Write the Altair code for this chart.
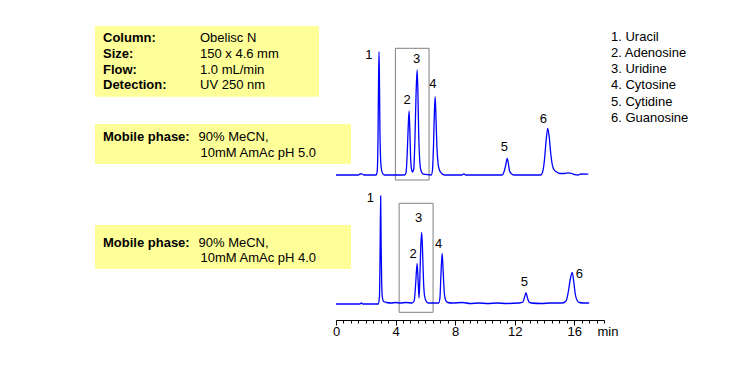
import altair as alt
import pandas as pd

# ---------------- data ----------------
# Top chromatogram: 90% MeCN, 10mM AmAc pH 5.0  (time in min, signal)
top_t = [0.0, 1.50, 1.62, 1.74, 1.86, 2.70, 2.77, 2.82, 2.86, 2.89, 2.92, 2.95, 2.99, 3.04, 3.12, 3.25,
         4.60, 4.70, 4.78, 4.85, 4.91, 4.96, 5.01, 5.06, 5.13, 5.22, 5.30, 5.38, 5.45, 5.50, 5.55, 5.61,
         5.67, 5.76, 5.88, 6.40, 6.48, 6.55, 6.61, 6.66, 6.72, 6.78, 6.86, 6.96, 7.10, 7.30,
         8.45, 8.59, 8.72, 11.15, 11.28, 11.40, 11.50, 11.58, 11.66, 11.78, 11.95,
         13.75, 13.88, 14.00, 14.11, 14.22, 14.32, 14.42, 14.53, 14.66, 14.82, 15.05, 15.35, 15.60,
         15.85, 16.05, 16.25, 16.45, 16.95]
top_v = [0.0, 0.0, 1.0, 1.2, 0.0, 0.0, 4.0, 35.0, 95.0, 123.3, 92.0, 45.0, 18.0, 7.0, 2.0, 0.0,
         0.0, 2.0, 20.0, 48.0, 64.0, 44.0, 18.0, 7.0, 3.0, 6.0, 35.0, 82.0, 105.0, 84.0, 44.0, 18.0,
         7.0, 2.5, 0.8, 0.0, 5.0, 30.0, 63.0, 78.3, 55.0, 27.0, 11.0, 4.5, 1.5, 0.0,
         0.0, 1.0, 0.0, 0.0, 3.0, 10.0, 16.7, 11.0, 4.0, 1.2, 0.0,
         0.0, 3.0, 15.0, 34.0, 46.7, 38.0, 22.0, 10.0, 5.0, 3.0, 1.5, 1.5, 2.2,
         1.5, 0.3, 0.0, 1.0, 0.8]

# Bottom chromatogram: 90% MeCN, 10mM AmAc pH 4.0
bot_t = [0.0, 1.60, 1.70, 1.80, 2.85, 2.92, 2.96, 3.00, 3.03, 3.07, 3.12, 3.20, 3.40, 3.70, 4.00, 4.30,
         4.70, 5.10, 5.25, 5.35, 5.45, 5.52, 5.58, 5.64, 5.70, 5.76, 5.82, 5.88, 5.95, 6.05, 6.20,
         6.90, 6.98, 7.05, 7.13, 7.20, 7.27, 7.36, 7.50, 7.80, 8.50, 9.00, 9.60, 10.20, 10.80, 11.50,
         12.30, 12.55, 12.65, 12.76, 12.86, 12.96, 13.10, 13.80, 14.40, 15.20, 15.45, 15.60, 15.75,
         15.87, 15.97, 16.08, 16.20, 16.35, 16.60, 17.00]
bot_v = [0.0, 0.0, 1.0, 0.0, 0.0, 8.0, 50.0, 108.0, 60.0, 20.0, 6.0, 2.5, 1.5, 1.0, 1.5, 1.0,
         1.5, 1.0, 3.0, 20.0, 40.7, 22.0, 6.0, 30.0, 60.0, 71.7, 50.0, 22.0, 8.0, 3.0, 1.0,
         1.0, 6.0, 30.0, 50.7, 32.0, 12.0, 4.0, 1.5, 1.0, 1.5, 0.5, 1.0, 0.5, 1.0, 0.5,
         1.0, 2.0, 6.0, 11.3, 6.0, 2.0, 1.0, 0.5, 1.0, 1.0, 3.0, 12.0, 26.0,
         31.7, 22.0, 9.0, 3.5, 1.5, 1.0, 1.0]

peak_ids = ["1", "2", "3", "4", "5", "6"]
top_label_t = [2.20, 4.77, 5.41, 6.50, 11.30, 13.92]
top_label_v = [120.0, 75.0, 115.7, 91.0, 27.7, 56.0]
bot_label_t = [2.31, 5.18, 5.55, 6.90, 12.65, 16.34]
bot_label_v = [105.7, 50.0, 85.7, 59.7, 21.7, 30.0]

compounds = ["Uracil", "Adenosine", "Uridine", "Cytosine", "Cytidine", "Guanosine"]

info_keys = ["Column:", "Size:", "Flow:", "Detection:"]
info_vals = ["Obelisc N", "150 x 4.6 mm", "1.0 mL/min", "UV 250 nm"]
mp_key = "Mobile phase:"
mp_top = ["90% MeCN,", "10mM AmAc pH 5.0"]
mp_bot = ["90% MeCN,", "10mM AmAc pH 4.0"]

# highlighted retention windows (min) and signal span
top_win_t = [3.99, 6.25]
top_win_v = [-5.0, 126.7]
bot_win_t = [4.24, 6.52]
bot_win_v = [-8.3, 100.7]

tick_values = [i * 0.5 for i in range(37)]

# ---------------- chart ----------------
FONT = "Liberation Sans"
BLUE = "#0000ff"
YELLOW = "#ffff99"
FS = 13
one = alt.InlineData(values=[{"k": 0}])

xscale = alt.Scale(domain=[0, 18], range=[328, 596], nice=False, zero=False)
xaxis = alt.Axis(
    values=tick_values,
    labelExpr="datum.value % 4 === 0 ? '' + datum.value : ''",
    tickSize=alt.condition("datum.value % 4 === 0", alt.value(5), alt.value(3)),
    labelOverlap=False, labelFlush=False, grid=False,
    domainColor="#000000", tickColor="#000000", labelColor="#000000",
    labelFont=FONT, labelFontSize=FS, labelPadding=0,
    title="min", titleFont=FONT, titleFontSize=FS, titleFontWeight="normal",
    titleColor="#000000", titleX=599.5, titleY=15, titleAlign="center",
    titleBaseline="alphabetic", titleAngle=0,
)
ytop = alt.Scale(domain=[0, 130], range=[167, 37], nice=False, zero=False)
ybot = alt.Scale(domain=[0, 130], range=[296, 166], nice=False, zero=False)


def trace_layer(ts, vs, lt, lv, wt, wv, yscale):
    d = pd.DataFrame({"t": ts, "v": vs})
    lab = pd.DataFrame({"t": lt, "v": lv, "id": peak_ids})
    win = pd.DataFrame({"t": [wt[0]], "t2": [wt[1]], "v": [wv[1]], "v2": [wv[0]]})
    box = alt.Chart(win).mark_rect(fill="transparent", stroke="#808080", strokeWidth=1).encode(
        x=alt.X("t:Q", scale=xscale, axis=xaxis), x2="t2:Q",
        y=alt.Y("v:Q", scale=yscale, axis=None), y2="v2:Q")
    line = alt.Chart(d).mark_line(color=BLUE, strokeWidth=1.3, interpolate="monotone").encode(
        x=alt.X("t:Q", scale=xscale, axis=xaxis),
        y=alt.Y("v:Q", scale=yscale, axis=None))
    txt = alt.Chart(lab).mark_text(font=FONT, fontSize=FS, color="#000000",
                                   align="center", baseline="middle").encode(
        x=alt.X("t:Q", scale=xscale, axis=xaxis),
        y=alt.Y("v:Q", scale=yscale, axis=None), text="id:N")
    return alt.layer(box, line, txt)


def rect(x1, x2, y1, y2):
    return alt.Chart(one).mark_rect(color=YELLOW).encode(
        x=alt.value(x1), x2=alt.value(x2), y=alt.value(y1), y2=alt.value(y2))


def label(s, x, y, bold=False, size=FS):
    return alt.Chart(one).mark_text(font=FONT, fontSize=size, color="#000000", align="left",
                                    baseline="alphabetic",
                                    fontWeight="bold" if bold else "normal").encode(
        x=alt.value(x), y=alt.value(y), text=alt.value(s))


annots = [rect(87, 311, 18, 88.7), rect(87, 343, 116, 156), rect(87, 343, 217, 261)]
for i, (k, v) in enumerate(zip(info_keys, info_vals)):
    yy = 33.7 + i * 15.9
    annots.append(label(k, 95, yy, bold=True))
    annots.append(label(v, 192, yy))
annots.append(label(mp_key, 95, 133, bold=True))
annots.append(label(mp_top[0], 190.5, 133))
annots.append(label(mp_top[1], 192.5, 148.5))
annots.append(label(mp_key, 95, 238.5, bold=True))
annots.append(label(mp_bot[0], 190.5, 238.5))
annots.append(label(mp_bot[1], 192.5, 254))
for i, c in enumerate(compounds):
    annots.append(label(f"{i + 1}. {c}", 603, 32.7 + i * 16.2))

top = trace_layer(top_t, top_v, top_label_t, top_label_v, top_win_t, top_win_v, ytop)
bot = trace_layer(bot_t, bot_v, bot_label_t, bot_label_v, bot_win_t, bot_win_v, ybot)

chart = alt.layer(*annots, top, bot).resolve_scale(y="independent").properties(
    width=730, height=312,
    autosize=alt.AutoSizeParams(type="none"),
    padding={"left": 0, "top": 0, "right": 0, "bottom": 58},
).configure(background="#ffffff").configure_view(stroke=None)

chart.save("out.html", embed_options={"renderer": "svg", "actions": False})
